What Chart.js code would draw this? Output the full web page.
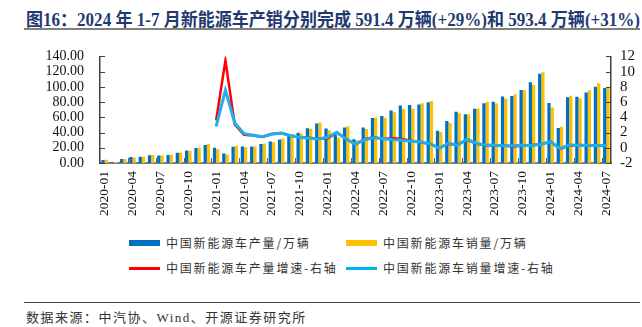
<!DOCTYPE html>
<html>
<head>
<meta charset="utf-8">
<script src="https://cdn.jsdelivr.net/npm/chart.js@4.4.1/dist/chart.umd.min.js"></script>
<style>
  body { margin: 0; width: 642px; height: 327px; background: #fff; position: relative; overflow: hidden; }
  #title { position: absolute; left: 26px; top: 5px; font: bold 18px "Liberation Serif", "Noto Sans CJK SC", serif; color: #1F3A70; white-space: nowrap; transform-origin: 0 0; }
  #titleLine { position: absolute; left: 24px; top: 28px; width: 616px; height: 2px; background: #808080; }
  #wrap { position: absolute; left: 0; top: 32px; width: 642px; height: 195px; }
  .lg { position: absolute; font: 12px "Noto Sans CJK SC", sans-serif; letter-spacing: 1.8px; color: #333; white-space: nowrap; line-height: 14px; }
  .sw { position: absolute; width: 31px; }
  #srcLine { position: absolute; left: 24px; top: 302px; width: 616px; height: 1px; background: #444; }
  #src { position: absolute; left: 26px; top: 307px; font: 13px "Liberation Serif", "Noto Sans CJK SC", serif; letter-spacing: 1.5px; color: #333; white-space: nowrap; }
</style>
</head>
<body>
<div id="title">图16：2024 年 1-7 月新能源车产销分别完成 591.4 万辆(+29%)和 593.4 万辆(+31%)</div>
<div id="titleLine"></div>
<div id="wrap"><canvas id="chart" width="642" height="195"></canvas></div>

<div class="sw" style="left:129px;top:240px;height:6px;background:#0070C0"></div>
<div class="lg" style="left:166px;top:236px">中国新能源车产量/万辆</div>
<div class="sw" style="left:346px;top:240px;height:6px;background:#FFC000"></div>
<div class="lg" style="left:383px;top:236px">中国新能源车销量/万辆</div>
<div class="sw" style="left:129px;top:267px;height:3px;background:#FF0000"></div>
<div class="lg" style="left:166px;top:261px">中国新能源车产量增速-右轴</div>
<div class="sw" style="left:346px;top:267px;height:3px;background:#00B0F0"></div>
<div class="lg" style="left:383px;top:261px">中国新能源车销量增速-右轴</div>

<div id="srcLine"></div>
<div id="src">数据来源：中汽协、Wind、开源证券研究所</div>

<script>
const months = [
  "2020-01","2020-02","2020-03","2020-04","2020-05","2020-06","2020-07","2020-08","2020-09","2020-10","2020-11","2020-12",
  "2021-01","2021-02","2021-03","2021-04","2021-05","2021-06","2021-07","2021-08","2021-09","2021-10","2021-11","2021-12",
  "2022-01","2022-02","2022-03","2022-04","2022-05","2022-06","2022-07","2022-08","2022-09","2022-10","2022-11","2022-12",
  "2023-01","2023-02","2023-03","2023-04","2023-05","2023-06","2023-07","2023-08","2023-09","2023-10","2023-11","2023-12",
  "2024-01","2024-02","2024-03","2024-04","2024-05","2024-06","2024-07"
];

// 万辆
const production = [
  4.0, 1.0, 5.3, 8.0, 8.3, 10.2, 10.0, 10.5, 13.6, 16.4, 19.8, 23.5,
  20.0, 12.4, 21.5, 21.6, 21.7, 24.8, 28.4, 30.9, 35.3, 39.7, 45.7, 51.8,
  45.2, 36.8, 46.5, 31.2, 46.6, 59.0, 61.7, 69.1, 75.5, 76.2, 76.8, 79.8,
  42.5, 55.2, 67.4, 64.0, 71.3, 78.4, 80.5, 87.2, 87.9, 95.9, 106.1, 117.2,
  78.7, 46.0, 86.3, 87.0, 92.5, 100.3, 98.4
];
const sales = [
  4.4, 1.3, 5.3, 7.2, 8.2, 10.4, 9.8, 10.9, 13.8, 16.0, 20.0, 24.8,
  17.9, 11.0, 22.6, 20.6, 21.7, 25.6, 27.1, 32.1, 35.7, 38.3, 45.0, 53.1,
  43.1, 33.4, 48.4, 29.9, 44.7, 59.6, 59.3, 66.6, 70.8, 71.4, 78.6, 81.4,
  40.8, 52.5, 65.3, 63.6, 71.7, 80.6, 78.0, 84.6, 90.4, 95.6, 102.6, 119.1,
  72.9, 47.7, 88.3, 85.0, 95.5, 104.9, 99.1
];

// 同比增速（右轴）
const prodGrowth = [
  null, null, null, null, null, null, null, null, null, null, null, null,
  3.58, 11.45, 3.06, 1.70, 1.61, 1.43, 1.84, 1.94, 1.60, 1.42, 1.31, 1.20,
  1.26, 1.97, 1.16, 0.44, 1.15, 1.38, 1.17, 1.24, 1.14, 0.92, 0.68, 0.54,
  -0.06, 0.50, 0.45, 1.05, 0.53, 0.33, 0.30, 0.26, 0.16, 0.26, 0.38, 0.47,
  0.85, -0.17, 0.28, 0.36, 0.30, 0.28, 0.22
];
const salesGrowth = [
  null, null, null, null, null, null, null, null, null, null, null, null,
  2.80, 7.56, 3.26, 1.86, 1.65, 1.46, 1.77, 1.94, 1.59, 1.39, 1.25, 1.14,
  1.41, 2.04, 1.14, 0.45, 1.06, 1.33, 1.19, 1.07, 0.98, 0.86, 0.75, 0.53,
  -0.05, 0.57, 0.35, 1.13, 0.60, 0.35, 0.32, 0.27, 0.28, 0.34, 0.31, 0.46,
  0.79, -0.09, 0.35, 0.34, 0.33, 0.30, 0.27
];

// squeeze the title so it spans the same width as the reference
const titleEl = document.getElementById("title");
const tw = titleEl.getBoundingClientRect().width;
titleEl.style.transform = "scaleX(" + (614 / tw) + ")";

// little tick marks drawn inside the plot area
const innerTicks = {
  id: "innerTicks",
  afterDraw(chart) {
    const ctx = chart.ctx;
    const { left, right, bottom } = chart.chartArea;
    const x = chart.scales.x, y = chart.scales.y, y1 = chart.scales.y1;
    ctx.save();
    ctx.lineWidth = 1;
    ctx.strokeStyle = "#404040";
    ctx.beginPath();
    y.ticks.forEach(t => {
      const py = Math.round(y.getPixelForValue(t.value)) + 0.5;
      ctx.moveTo(left, py); ctx.lineTo(left + 5, py);
    });
    y1.ticks.forEach(t => {
      const py = Math.round(y1.getPixelForValue(t.value)) + 0.5;
      ctx.moveTo(right - 5, py); ctx.lineTo(right, py);
    });
    ctx.stroke();
    ctx.strokeStyle = "#606060";
    ctx.beginPath();
    for (let i = 0; i < months.length - 1; i++) {
      if ((i + 1) % 3 !== 0) continue;
      const px = Math.round((x.getPixelForValue(i) + x.getPixelForValue(i + 1)) / 2) + 0.5;
      ctx.moveTo(px, bottom); ctx.lineTo(px, bottom - 5);
    }
    ctx.stroke();
    ctx.restore();
  }
};

new Chart(document.getElementById("chart"), {
  data: {
    labels: months,
    datasets: [
      {
        type: "line", label: "中国新能源车销量增速-右轴", data: salesGrowth, yAxisID: "y1",
        borderColor: "#1CB0EE", borderWidth: 3, pointRadius: 0, tension: 0, order: 0
      },
      {
        type: "line", label: "中国新能源车产量增速-右轴", data: prodGrowth, yAxisID: "y1",
        borderColor: "#FF0000", borderWidth: 2.5, pointRadius: 0, tension: 0, order: 1
      },
      {
        type: "bar", label: "中国新能源车产量/万辆", data: production, yAxisID: "y",
        backgroundColor: "#0070C0", categoryPercentage: 0.7, barPercentage: 1.0, order: 2
      },
      {
        type: "bar", label: "中国新能源车销量/万辆", data: sales, yAxisID: "y",
        backgroundColor: "#FFC000", categoryPercentage: 0.7, barPercentage: 1.0, order: 3
      }
    ]
  },
  options: {
    responsive: false,
    animation: false,
    layout: { padding: { top: 23, left: 0, right: 0, bottom: 0 } },
    plugins: { legend: { display: false }, tooltip: { enabled: false } },
    scales: {
      x: {
        grid: { display: false, drawTicks: false },
        border: { display: true, color: "#808080", width: 2 },
        ticks: {
          autoSkip: false, minRotation: 90, maxRotation: 90, padding: 8,
          color: "#111", font: { family: "Liberation Serif", size: 13.5 },
          callback: (v, i) => (i % 3 === 0 ? months[i] : "")
        },
        afterFit: s => { s.height = 64; }
      },
      y: {
        position: "left", min: 0, max: 140,
        grid: { display: false, drawTicks: false },
        border: { display: true, color: "#404040", width: 1.5 },
        ticks: {
          autoSkip: false, stepSize: 20, padding: 16, color: "#111",
          font: { family: "Liberation Serif", size: 14 }, callback: v => v.toFixed(2)
        },
        afterFit: s => { s.width = 100; }
      },
      y1: {
        position: "right", min: -2, max: 12,
        grid: { display: false, drawTicks: false },
        border: { display: true, color: "#404040", width: 1.5 },
        ticks: {
          autoSkip: false, stepSize: 2, padding: 9, color: "#111",
          font: { family: "Liberation Serif", size: 15 }
        },
        afterFit: s => { s.width = 31; }
      }
    }
  },
  plugins: [innerTicks]
});
</script>
</body>
</html>
